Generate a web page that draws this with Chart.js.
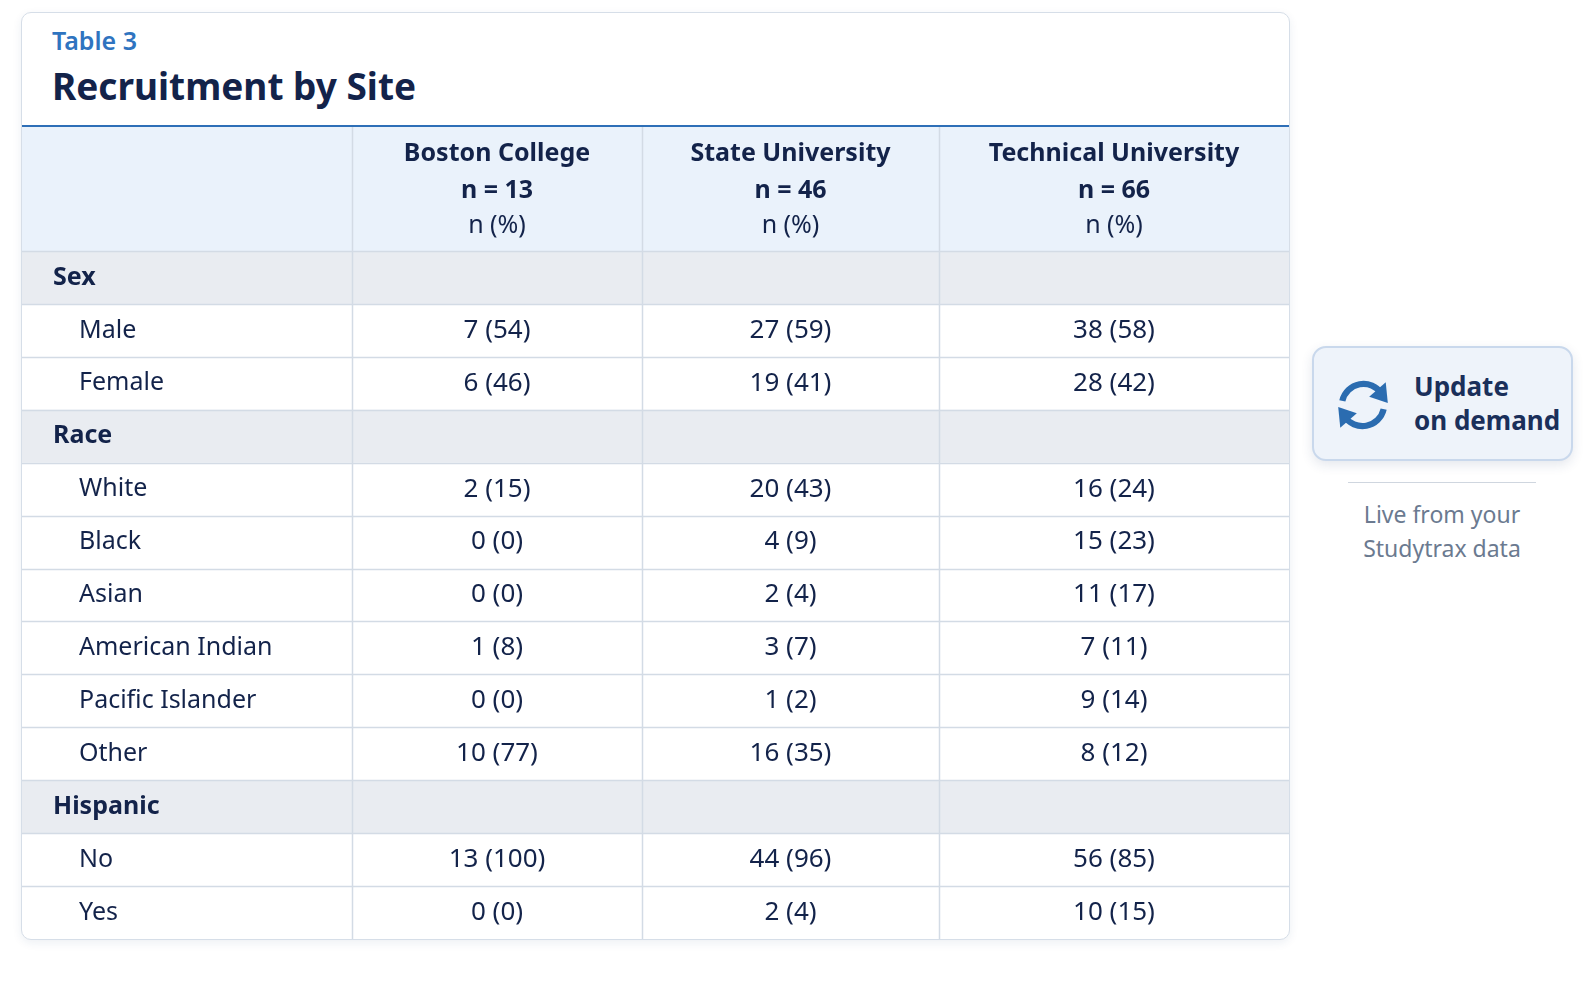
<!DOCTYPE html>
<html>
<head>
<meta charset="utf-8">
<script src="https://cdn.jsdelivr.net/npm/chart.js@4"></script>
<style>
  body { margin:0; background:#fff; font-family:"Noto Sans", sans-serif; }
  #card { position:absolute; left:21px; top:12px; width:1267px; height:926px; border:1px solid #d6dee8;
          border-radius:10px; overflow:hidden; box-shadow:0 3px 10px rgba(30,60,110,0.08); background:#fff; }
  #tag { position:absolute; left:30px; top:10px; font-size:25px; font-weight:600; color:#2f74c0; }
  #title { position:absolute; left:30px; top:47px; font-size:37px; font-weight:700; color:#13234a; }
  #wrap { position:absolute; left:0; top:112px; width:1267px; height:814px; }
  #btn { position:absolute; left:1312px; top:346px; width:261px; height:115px; border:2px solid #c9d8ec; border-radius:14px;
         background:#eef3fa; box-shadow:0 4px 12px rgba(30,60,110,0.12); box-sizing:border-box; }
  #btn svg { position:absolute; left:18px; top:26px; }
  #btn div { position:absolute; left:100px; top:21px; font-size:26px; font-weight:700; color:#1a2f5a; line-height:34px; }
  #rule { position:absolute; left:1348px; top:482px; width:188px; height:1px; background:#cfd6df; }
  #live { position:absolute; left:1318px; top:497px; width:248px; text-align:center; font-size:23px; color:#6b7a90; line-height:34px; }
</style>
</head>
<body>
<div id="card">
  <div id="tag">Table 3</div>
  <div id="title">Recruitment by Site</div>
  <div id="wrap"><canvas id="tbl"></canvas></div>
</div>
<div id="btn">
  <svg width="62" height="62" viewBox="0 0 60 60">
    <path d="M10 26 A21 21 0 0 1 48 19" fill="none" stroke="#2b6cb0" stroke-width="6"/>
    <polygon points="52,8 54,28 36,22" fill="#2b6cb0"/>
    <path d="M50 34 A21 21 0 0 1 12 41" fill="none" stroke="#2b6cb0" stroke-width="6"/>
    <polygon points="8,52 6,32 24,38" fill="#2b6cb0"/>
  </svg>
  <div>Update<br>on demand</div>
</div>
<div id="rule"></div>
<div id="live">Live from your<br>Studytrax data</div>
<script>
const sites = ["Boston College", "State University", "Technical University"];
const siteN = [13, 46, 66];
const rowLabels = ["Sex", "Male", "Female", "Race", "White", "Black", "Asian", "American Indian", "Pacific Islander", "Other", "Hispanic", "No", "Yes"];
const isSection = [true, false, false, true, false, false, false, false, false, false, true, false, false];
const bostonN   = [null, 7, 6, null, 2, 0, 0, 1, 0, 10, null, 13, 0];
const bostonPct = [null, 54, 46, null, 15, 0, 0, 8, 0, 77, null, 100, 0];
const stateN    = [null, 27, 19, null, 20, 4, 2, 3, 1, 16, null, 44, 2];
const statePct  = [null, 59, 41, null, 43, 9, 4, 7, 2, 35, null, 96, 4];
const techN     = [null, 38, 28, null, 16, 15, 11, 7, 9, 8, null, 56, 10];
const techPct   = [null, 58, 42, null, 24, 23, 17, 11, 14, 12, null, 85, 15];

const counts = [bostonN, stateN, techN];
const pcts = [bostonPct, statePct, techPct];
const colEdges = [0, 330, 620, 917, 1267];
const headerH = 126;

const tablePlugin = {
  id: 'tablePlugin',
  afterDraw(chart) {
    const ctx = chart.ctx, x = chart.scales.x, y = chart.scales.y;
    const W = chart.width;
    const band = y.getPixelForValue(1) - y.getPixelForValue(0);
    ctx.save();
    ctx.fillStyle = '#eaf2fb';
    ctx.fillRect(0, 0, W, headerH);
    rowLabels.forEach((lab, i) => {
      if (isSection[i]) {
        ctx.fillStyle = '#e9ecf1';
        ctx.fillRect(0, y.getPixelForValue(i) - band / 2, W, band);
      }
    });
    ctx.strokeStyle = '#d3dbe5';
    ctx.lineWidth = 1.5;
    rowLabels.forEach((lab, i) => {
      const yy = Math.round(y.getPixelForValue(i) - band / 2) + 0.5;
      ctx.beginPath(); ctx.moveTo(0, yy); ctx.lineTo(W, yy); ctx.stroke();
    });
    colEdges.slice(1, 4).forEach(e => {
      const xx = Math.round(x.getPixelForValue(e)) + 0.5;
      ctx.beginPath(); ctx.moveTo(xx, 0); ctx.lineTo(xx, chart.height); ctx.stroke();
    });
    ctx.strokeStyle = '#2e6fb7';
    ctx.lineWidth = 2;
    ctx.beginPath(); ctx.moveTo(0, 1); ctx.lineTo(W, 1); ctx.stroke();
    ctx.fillStyle = '#13234a';
    ctx.textAlign = 'center';
    ctx.textBaseline = 'middle';
    sites.forEach((s, c) => {
      const cx = x.getPixelForValue((colEdges[c + 1] + colEdges[c + 2]) / 2);
      ctx.font = '700 25px "Noto Sans"';
      ctx.fillText(s, cx, 29);
      ctx.fillText('n = ' + siteN[c], cx, 66);
      ctx.font = '400 25px "Noto Sans"';
      ctx.fillText('n (%)', cx, 101);
    });
    rowLabels.forEach((lab, i) => {
      const yc = y.getPixelForValue(i);
      ctx.textAlign = 'left';
      ctx.fillStyle = '#13234a';
      if (isSection[i]) {
        ctx.font = '700 25px "Noto Sans"';
        ctx.fillText(lab, 31, yc);
      } else {
        ctx.font = '400 25px "Noto Sans"';
        ctx.fillText(lab, 57, yc);
        ctx.textAlign = 'center';
        ctx.font = '400 26px "Noto Sans"';
        for (let c = 0; c < 3; c++) {
          const cx = x.getPixelForValue((colEdges[c + 1] + colEdges[c + 2]) / 2);
          ctx.fillText(counts[c][i] + ' (' + pcts[c][i] + ')', cx, yc);
        }
      }
    });
    ctx.restore();
  }
};

new Chart(document.getElementById('tbl'), {
  type: 'scatter',
  data: { labels: rowLabels, datasets: [] },
  options: {
    responsive: true,
    maintainAspectRatio: false,
    animation: false,
    layout: { padding: { top: headerH, left: 0, right: 0, bottom: 0 } },
    plugins: { legend: { display: false }, tooltip: { enabled: false } },
    scales: {
      x: { type: 'linear', min: 0, max: 1267, offset: false, display: false },
      y: { type: 'category', labels: rowLabels, offset: true, display: false }
    }
  },
  plugins: [tablePlugin]
});
</script>
</body>
</html>
